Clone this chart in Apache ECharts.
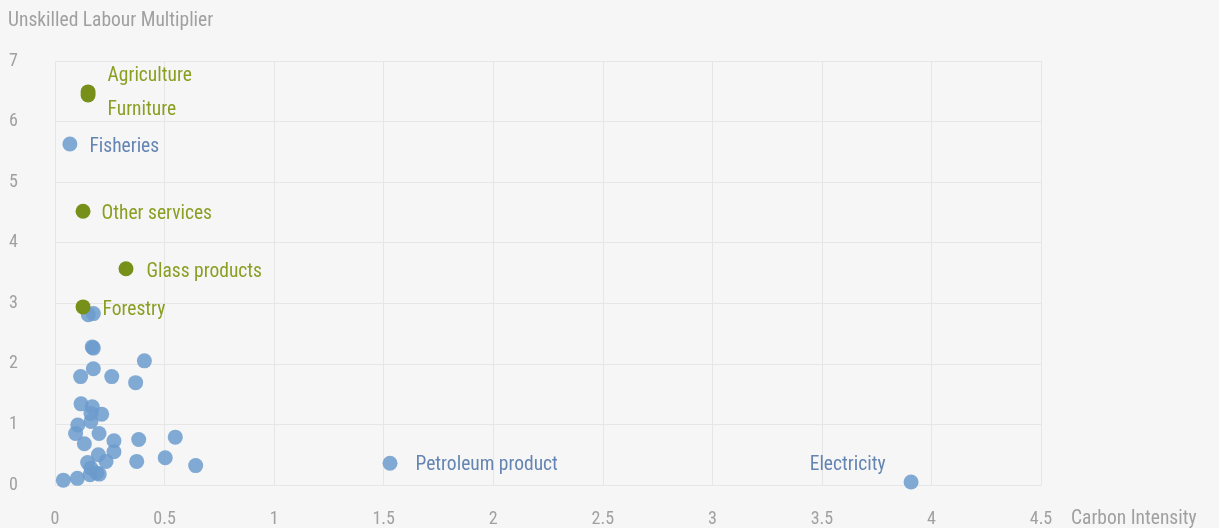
<!DOCTYPE html>
<html>
<head>
<meta charset="utf-8">
<script src="https://cdn.jsdelivr.net/npm/echarts@6/dist/echarts.min.js"></script>
<style>html,body{margin:0;padding:0;background:#f6f6f6;}#c{width:1219px;height:528px;}</style>
</head>
<body>
<div id="c"></div>
<script>
// Highlighted sectors (green)
var greenNames = ['Agriculture', 'Furniture', 'Other services', 'Glass products', 'Forestry'];
var greenX = [0.151, 0.151, 0.128, 0.324, 0.128];
var greenY = [6.49, 6.44, 4.52, 3.57, 2.94];

// Labelled blue sectors
var blueNames = ['Fisheries', 'Petroleum product', 'Electricity'];
var blueX = [0.068, 1.529, 3.907];
var blueY = [5.63, 0.36, 0.05];

// Unlabelled blue sectors
var otherX = [0.152, 0.175, 0.170, 0.175, 0.408, 0.175, 0.117, 0.259, 0.368, 0.119, 0.170, 0.164, 0.213, 0.164, 0.104, 0.094, 0.201, 0.134, 0.269, 0.382, 0.549, 0.269, 0.198, 0.233, 0.149, 0.373, 0.503, 0.642, 0.164, 0.160, 0.202, 0.190, 0.102, 0.038];
var otherY = [2.81, 2.83, 2.28, 2.26, 2.05, 1.92, 1.79, 1.79, 1.69, 1.34, 1.29, 1.18, 1.17, 1.05, 0.99, 0.85, 0.85, 0.68, 0.73, 0.75, 0.79, 0.55, 0.50, 0.39, 0.37, 0.39, 0.45, 0.32, 0.28, 0.17, 0.18, 0.20, 0.11, 0.08];

var xTicks = ['0', '0.5', '1', '1.5', '2', '2.5', '3', '3.5', '4', '4.5'];
var yTicks = ['0', '1', '2', '3', '4', '5', '6', '7'];

var FONT = '"Roboto Condensed", Roboto, sans-serif';
var BLUE = '#6b9bcd';
var GREEN = '#77901a';
var BLUE_TXT = '#4a70a6';
var GREEN_TXT = '#8a9e22';

// per-label placement (style only)
var greenLabelCfg = [
  {position: 'right', distance: 12, offset: [0, -16]},
  {position: 'right', distance: 12, offset: [0, 15]},
  {position: 'right', distance: 11, offset: [0, 3]},
  {position: 'right', distance: 13, offset: [0, 3]},
  {position: 'right', distance: 12, offset: [0, 3]}
];
var blueLabelCfg = [
  {position: 'right', distance: 12, offset: [0, 3]},
  {position: 'right', distance: 18, offset: [0, 2]},
  {position: 'left', distance: 18, offset: [0, -17]}
];

var LABEL_SIZE = 19.5;

var greenData = greenNames.map(function (n, i) {
  var c = greenLabelCfg[i];
  return {name: n, value: [greenX[i], greenY[i]],
    label: {show: true, formatter: n, position: c.position, distance: c.distance, offset: c.offset,
      color: GREEN_TXT, fontSize: LABEL_SIZE, fontFamily: FONT}};
});
var blueData = blueNames.map(function (n, i) {
  var c = blueLabelCfg[i];
  return {name: n, value: [blueX[i], blueY[i]],
    label: {show: true, formatter: n, position: c.position, distance: c.distance, offset: c.offset,
      color: BLUE_TXT, fontSize: LABEL_SIZE, fontFamily: FONT}};
});
otherX.forEach(function (x, i) { blueData.push({value: [x, otherY[i]]}); });

var chart = echarts.init(document.getElementById('c'));
chart.setOption({
  backgroundColor: '#f6f6f6',
  animation: false,
  title: {
    text: 'Unskilled Labour Multiplier', left: 3, top: 6,
    textStyle: {color: '#a0a0a0', fontSize: LABEL_SIZE, fontWeight: 'normal', fontFamily: FONT}
  },
  grid: {left: 55, right: 178, top: 61, bottom: 43, containLabel: false, outerBoundsMode: 'none'},
  xAxis: {
    type: 'value', min: 0, max: 4.5, interval: 0.5,
    name: 'Carbon Intensity', nameLocation: 'end', nameGap: 30,
    nameTextStyle: {color: '#a0a0a0', fontSize: LABEL_SIZE, fontFamily: FONT, verticalAlign: 'top', padding: [24, 0, 0, 0]},
    axisLine: {show: true, lineStyle: {color: '#e6e6e6'}},
    axisTick: {show: false},
    axisLabel: {color: '#a0a0a0', fontSize: 18, fontFamily: FONT, margin: 25,
      formatter: function (v) { return xTicks[Math.round(v / 0.5)]; }},
    splitLine: {show: true, lineStyle: {color: '#e6e6e6'}}
  },
  yAxis: {
    type: 'value', min: 0, max: 7, interval: 1,
    axisLine: {show: false},
    axisTick: {show: false},
    axisLabel: {color: '#a0a0a0', fontSize: 18, fontFamily: FONT, align: 'left', margin: 46,
      verticalAlign: 'middle', padding: [4, 0, 0, 0],
      formatter: function (v) { return yTicks[Math.round(v)]; }},
    splitLine: {show: true, lineStyle: {color: '#e6e6e6'}}
  },
  series: [
    {
      type: 'scatter', symbolSize: 15, data: blueData,
      itemStyle: {color: BLUE, opacity: 0.85}, z: 2
    },
    {
      type: 'scatter', symbolSize: 15, data: greenData,
      itemStyle: {color: GREEN, opacity: 1}, z: 3
    }
  ]
});
</script>
</body>
</html>
